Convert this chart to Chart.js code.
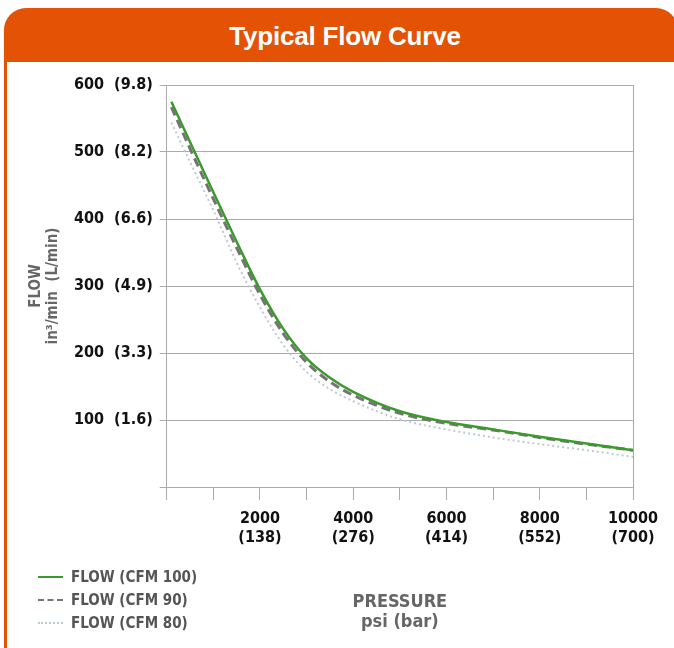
<!DOCTYPE html>
<html>
<head>
<meta charset="utf-8">
<script src="https://cdn.jsdelivr.net/npm/chart.js@4.4.0/dist/chart.umd.min.js"></script>
<style>
  body { margin: 0; background: #fff; width: 674px; height: 648px; overflow: hidden; position: relative; }
  #edge { position: absolute; left: 4px; top: 30px; width: 3px; height: 640px; background: #e35205; }
  #head { position: absolute; left: 4px; top: 8px; width: 674px; height: 54px; background: #e35205; border-radius: 22px 22px 0 0; color: #fff; font: bold 26px "Liberation Sans", Arial, sans-serif; text-align: center; line-height: 56px; letter-spacing: -0.2px; }
  #head span { position: absolute; left: 0; width: 682px; }
  #wrap { position: absolute; left: 0; top: 62px; width: 674px; height: 586px; }
  #legend { position: absolute; left: 38px; top: 565px; font: bold 15px "DejaVu Sans Condensed", sans-serif; color: #555; }
  #legend div { height: 23px; display: flex; align-items: center; }
  #legend span.ln { display: inline-block; width: 25px; margin-right: 8px; }
</style>
</head>
<body>
<div id="edge"></div>
<div id="head"><span>Typical Flow Curve</span></div>
<div id="wrap"><canvas id="myChart" width="674" height="586"></canvas></div>
<div id="legend"></div>
<script>
var pressure = [100, 500, 1000, 1500, 2000, 2500, 3000, 3500, 4000, 5000, 6000, 7000, 8000, 9000, 10000]
var flowCfm100 = [575, 515, 440, 366, 295, 236, 192, 163, 142, 113, 97, 86, 75, 65, 55]
var flowCfm90 = [567, 505, 430, 357, 287, 229, 186, 157, 137, 110, 95, 85, 74, 64, 55]
var flowCfm80 = [544, 485, 413, 335, 268, 212, 172, 146, 128, 101, 86, 74, 64, 55, 45]

var xTickPsi = [2000, 4000, 6000, 8000, 10000]
var xTickBar = ['138', '276', '414', '552', '700']
var yTickFlow = [100, 200, 300, 400, 500, 600]
var yTickLpm = ['1.6', '3.3', '4.9', '6.6', '8.2', '9.8']

var seriesNames = ['FLOW (CFM 100)', 'FLOW (CFM 90)', 'FLOW (CFM 80)']

function toPoints(ys) {
      return pressure.map(function (p, i) { return { x: p, y: ys[i] } })
}

var fam = '"DejaVu Sans Condensed", sans-serif'
var tickFont = { family: fam, size: 16, weight: 'bold' }
var gridGrey = '#ababab'

var ctx = document.getElementById("myChart");
var myChart = new Chart(ctx, {
      type: 'line',
      data: {
            datasets: [{
                  label: seriesNames[0],
                  data: toPoints(flowCfm100),
                  borderColor: '#3a9a2c',
                  borderWidth: 2.5,
                  pointRadius: 0,
                  cubicInterpolationMode: 'monotone',
                  order: 0
            }, {
                  label: seriesNames[1],
                  data: toPoints(flowCfm90),
                  borderColor: '#747474',
                  borderWidth: 3,
                  borderDash: [9, 5],
                  pointRadius: 0,
                  cubicInterpolationMode: 'monotone',
                  order: 1
            }, {
                  label: seriesNames[2],
                  data: toPoints(flowCfm80),
                  borderColor: '#bccbd3',
                  borderWidth: 2,
                  borderDash: [2, 3],
                  pointRadius: 0,
                  cubicInterpolationMode: 'monotone',
                  order: 2
            }]
      },
      options: {
            animation: false,
            responsive: false,
            layout: { padding: { left: 24, right: 41, top: 23, bottom: 12 } },
            plugins: {
                  legend: { display: false },
                  tooltip: { enabled: false }
            },
            scales: {
                  x: {
                        type: 'linear',
                        min: 0,
                        max: 10000,
                        border: { display: true, color: gridGrey },
                        grid: {
                              drawOnChartArea: true,
                              color: function (c) { return c.tick && c.tick.value === 10000 ? gridGrey : 'rgba(0,0,0,0)' },
                              tickColor: gridGrey,
                              tickLength: 13
                        },
                        ticks: {
                              stepSize: 1000,
                              autoSkip: false,
                              maxRotation: 0,
                              color: '#111',
                              font: tickFont,
                              padding: 9,
                              callback: function (v) {
                                    var i = xTickPsi.indexOf(v)
                                    return i < 0 ? '' : [String(v), '(' + xTickBar[i] + ')']
                              }
                        },
                        title: {
                              display: true,
                              text: ['PRESSURE', 'psi (bar)'],
                              color: '#666',
                              font: { family: fam, size: 18, weight: 'bold', lineHeight: 1.1 },
                              padding: { top: 36 }
                        }
                  },
                  y: {
                        min: 0,
                        max: 600,
                        border: { display: true, color: gridGrey },
                        grid: { color: gridGrey, tickLength: 7 },
                        ticks: {
                              stepSize: 100,
                              color: '#111',
                              font: tickFont,
                              padding: 7,
                              callback: function (v) {
                                    var i = yTickFlow.indexOf(v)
                                    return i < 0 ? '' : v + '  (' + yTickLpm[i] + ')'
                              }
                        },
                        title: {
                              display: true,
                              text: ['FLOW', 'in\u00b3/min  (L/min)'],
                              color: '#666',
                              font: { family: fam, size: 15, weight: 'bold', lineHeight: 1.1 },
                              padding: { bottom: 6 }
                        }
                  }
            }
      }
})

// legend below, built from the datasets
var legend = document.getElementById('legend')
myChart.data.datasets.forEach(function (ds) {
      var row = document.createElement('div')
      var ln = document.createElement('span')
      ln.className = 'ln'
      var style = ds.borderDash ? (ds.borderDash[0] > 4 ? 'dashed' : 'dotted') : 'solid'
      ln.style.borderTop = (ds.borderDash && ds.borderDash[0] <= 4 ? 2 : 2.5) + 'px ' + style + ' ' + ds.borderColor
      row.appendChild(ln)
      row.appendChild(document.createTextNode(ds.label))
      legend.appendChild(row)
})
</script>
</body>
</html>
